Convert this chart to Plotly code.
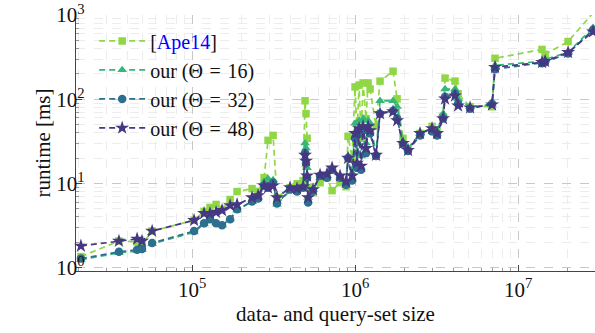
import plotly.graph_objects as go

# data- and query-set size
size = [20800, 35600, 46000, 49300, 56900, 102900, 118500, 128900, 140400, 152800,
        171100, 188900, 233400, 254100, 276600, 292500, 314000, 332000, 399100, 440600,
        479800, 493400, 500300, 508000, 515200, 552100, 609900, 673000, 722800, 809200,
        880900, 905700, 959400, 1000000, 1028700, 1058600, 1088900, 1119700, 1167700, 1202000,
        1236000, 1345000, 1423000, 1710000, 1811000, 1968000, 2113000, 2505000, 2966000, 3184000,
        3467000, 3565000, 4104000, 4285000, 5078000, 6925000, 7224000, 14030000, 14650000, 20270000,
        28840000]

# runtime [ms]
ape14 = [1.35, 2.07, 2.02, 1.86, 2.72, 3.65, 4.66, 5.19, 5.63, 4.92,
         6.44, 8.00, 8.67, 8.00, 11.7, 32.5, 37.2, 6.80, 8.91, 9.9,
         10.8, 95.8, 67.4, 34.3, 8.91, 7.78, 10.2, 11.7, 8.21, 10.2,
         9.15, 36.2, 20.0, 140, 39.3, 147, 34.3, 156, 58.9, 156,
         132, 47.5, 164, 215, 101, 34.3, 25.5, 39.3, 47.5, 41.5,
         62.2, 178, 164, 116, 81.5, 81.5, 306, 390, 341, 484,
         1059]
our16 = [1.24, 1.50, 1.58, 1.63, 1.91, 2.64, 3.28, 3.75, 3.37, 3.19,
         3.75, 4.79, 6.10, 6.80, 10.5, 11.4, 11.0, 5.63, 8.21, 8.44,
         8.91, 30.0, 26.2, 15.3, 6.80, 8.44, 11.7, 12.3, 14.5, 11.7,
         9.40, 21.1, 13.3, 51.5, 22.9, 55.8, 21.1, 58.9, 30.0, 55.8,
         51.5, 22.9, 95.8, 95.8, 81.5, 31.7, 26.2, 39.3, 45.0, 41.5,
         67.4, 132, 132, 101, 81.5, 86.0, 253, 282, 298, 360,
         706]
our32 = [1.28, 1.54, 1.63, 1.67, 1.96, 2.72, 3.37, 3.75, 3.37, 3.19,
         3.75, 4.92, 6.10, 6.62, 9.40, 8.91, 10.2, 5.78, 8.44, 8.00,
         8.91, 22.9, 17.5, 11.7, 5.94, 8.21, 12.3, 11.7, 14.5, 11.7,
         9.66, 20.0, 10.8, 34.3, 15.3, 39.3, 14.5, 42.6, 22.9, 42.6,
         39.3, 21.1, 67.4, 73.1, 58.9, 29.2, 24.2, 37.2, 41.5, 37.2,
         58.9, 107, 116, 88.3, 77.2, 88.3, 227, 267, 274, 350,
         669]
our48 = [1.81, 2.07, 2.19, 2.07, 2.72, 3.65, 4.41, 4.41, 4.54, 4.79,
         5.48, 5.63, 6.80, 7.17, 9.40, 8.91, 9.40, 6.80, 8.91, 8.67,
         9.15, 21.7, 18.5, 12.3, 6.80, 8.44, 12.6, 13.0, 15.3, 12.3,
         10.5, 20.0, 12.3, 39.3, 17.5, 45.0, 16.1, 47.5, 26.2, 47.5,
         42.6, 21.7, 67.4, 71.2, 55.8, 30.0, 24.8, 39.3, 45.0, 39.3,
         58.9, 101, 110, 83.7, 79.3, 86.0, 240, 274, 282, 360,
         634]

names = ["[<span style='color:#0000ff'>Ape14</span>]",
         "our (Θ\u2004=\u200416)", "our (Θ\u2004=\u200432)", "our (Θ\u2004=\u200448)"]
series = [ape14, our16, our32, our48]
colors = ["#8fd744", "#35b779", "#2c6f8e", "#453781"]
symbols = ["square", "triangle-up", "circle", "star"]
msizes = [7.5, 8.5, 8.5, 10.5]

x_ticks = [1e5, 1e6, 1e7]
x_ticktext = ["10<sup>5</sup>", "10<sup>6</sup>", "10<sup>7</sup>"]
y_ticks = [1, 10, 100, 1000]
y_ticktext = ["10<sup>0</sup>", "10<sup>1</sup>", "10<sup>2</sup>", "10<sup>3</sup>"]

fig = go.Figure()
for name, ys, c, s, ms in zip(names, series, colors, symbols, msizes):
    fig.add_trace(go.Scatter(
        x=size, y=ys, name=name, mode="lines+markers",
        line=dict(color=c, width=1.7, dash="6px,4px"),
        marker=dict(symbol=s, size=ms, color=c, line=dict(width=0)),
        cliponaxis=False,
    ))

font = "Liberation Serif, Times New Roman, serif"
axis_common = dict(
    type="log", showline=True, linecolor="#444", linewidth=1.2,
    ticks="inside", ticklen=6, tickcolor="#444",
    showgrid=True, gridcolor="#c8c8c8", griddash="dash", gridwidth=1,
    zeroline=False, mirror=False, automargin=False,
    tickfont=dict(family=font, size=21, color="#111"),
    minor=dict(dtick="D1", ticks="inside", ticklen=3, tickcolor="#999",
               showgrid=True, gridcolor="#ececec", griddash="dash", gridwidth=1),
)

fig.update_layout(
    width=595, height=333,
    margin=dict(l=76, r=0, t=15, b=62, autoexpand=False),
    paper_bgcolor="white", plot_bgcolor="white",
    font=dict(family=font, size=21, color="#111"),
    showlegend=True,
    legend=dict(x=0.035, y=0.975, xanchor="left", yanchor="top",
                bgcolor="rgba(0,0,0,0)", borderwidth=0,
                font=dict(family=font, size=20, color="#111"),
                itemwidth=46, tracegroupgap=0),
    xaxis=dict(axis_common, range=[4.288, 7.472], tickvals=x_ticks, ticktext=x_ticktext,
               title=dict(text="data- and query-set size", font=dict(family=font, size=21), standoff=4)),
    yaxis=dict(axis_common, range=[-0.04, 3.0], tickvals=y_ticks, ticktext=y_ticktext,
               ticklabelstandoff=-14,
               title=dict(text="runtime [ms]", font=dict(family=font, size=21), standoff=0)),
)

fig.write_html("out.html", config={"displayModeBar": False})

# remove the default page margin so the figure sits at the window origin
with open("out.html", "r", encoding="utf-8") as f:
    html = f.read()
html = html.replace("<head>", "<head><style>html,body{margin:0;padding:0;}</style>", 1)
with open("out.html", "w", encoding="utf-8") as f:
    f.write(html)
